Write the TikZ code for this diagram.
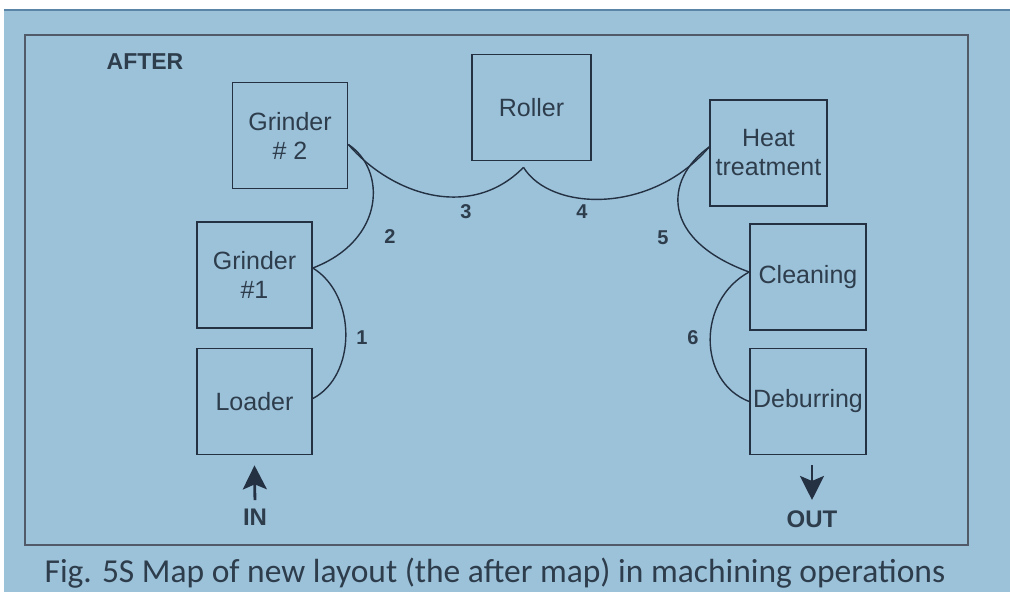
\documentclass[tikz,border=0pt]{standalone}
\usepackage{fontspec}
\setmainfont{Liberation Sans}
\newfontfamily\captionfont{Carlito}
\usetikzlibrary{arrows.meta,positioning}
\definecolor{Sheet}{HTML}{9CC2DA}
\definecolor{Edge}{HTML}{5A85A6}
\definecolor{Ink}{HTML}{243142}
\definecolor{Pencil}{HTML}{2E3D4C}
\tikzset{
  station/.style={
    draw=Ink, line width=1.7pt, minimum width=115pt, minimum height=106pt,
    inner sep=0pt, align=center, text=Pencil, font=\fontsize{25}{29}\selectfont
  },
  route/.style={draw=Ink, line width=1.4pt},
  stepno/.style={text=Pencil, font=\fontsize{20}{22}\selectfont\bfseries},
  portlabel/.style={text=Pencil, font=\fontsize{24}{26}\selectfont\bfseries},
  portflow/.style={-{Stealth[length=24pt,width=24pt,inset=5pt]}, draw=Ink, line width=2.8pt}
}

\begin{document}
\begin{tikzpicture}[x=1pt,y=-1pt]
        \useasboundingbox (0,0) rectangle (1010,592);
        \fill[white] (0,0) rectangle (1010,592);
        \fill[Sheet] (4,10) rectangle (1010,592);
        \draw[Edge,line width=2pt] (4,10) -- (1010,10);
        \draw[Ink!80,line width=1.3pt] (25,35) rectangle (968,545);
        \node[portlabel,font=\fontsize{23}{25}\selectfont\bfseries] (after) at (145,62) {AFTER};
        % stations
        \node[station] (grindtwo) at (290,135.5) {Grinder\\\# 2};
        \node[station,minimum width=119pt] (roller) at (531.5,107.5) {Roller};
        \node[station,minimum width=117pt] (heat) at (768.5,153) {Heat\\treatment};
        \node[station] (grindone) at (254.5,275) {Grinder\\\#1};
        \node[station] (loader) at (254.5,401.5) {Loader};
        \node[station,minimum width=116pt] (clean) at (808,277) {Cleaning};
        \node[station,minimum width=116pt] (deburr) at (808,401.5) {Deburring};
        \coordinate (cusp) at ([xshift=-8pt,yshift=-6pt]roller.south);
        % routes
        \draw[route] ([yshift=7pt]grindone.east) .. controls +(44,27) and +(44,-23) .. ([yshift=3pt]loader.east);
        \draw[route] ([yshift=-9pt]grindtwo.east) .. controls +(38,25) and +(73,-28) .. ([yshift=7pt]grindone.east);
        \draw[route] ([yshift=-9pt]grindtwo.east) .. controls +(43,50) and +(-53,54) .. (cusp);
        \draw[route] (cusp) .. controls +(27,44) and +(-58,68) .. ([yshift=6pt]heat.west);
        \draw[route] ([yshift=6pt]heat.west) .. controls +(-46,33) and +(-88,-32) .. ([yshift=5pt]clean.west);
        \draw[route] ([yshift=5pt]clean.west) .. controls +(-52,28) and +(-52,-20) .. (deburr.west);
        \node[stepno] (s1) at (362,338) {1};
        \node[stepno] (s2) at (390,237) {2};
        \node[stepno] (s3) at (466,212) {3};
        \node[stepno] (s4) at (582,212) {4};
        \node[stepno] (s5) at (663,238) {5};
        \node[stepno] (s6) at (693,338) {6};
        % in and out
        \node[portlabel] (inlbl) at (255,517) {IN};
        \node[portlabel] (outlbl) at (812,519) {OUT};
        \draw[portflow,shorten <=5pt] (inlbl.north) -- ([yshift=-10pt]loader.south);
        \draw[portflow,shorten >=7pt] ([xshift=4pt,yshift=-10pt]deburr.south) -- (outlbl.north);
        \node[text=Pencil,font=\captionfont\fontsize{33.5}{36}\selectfont,anchor=base] (caption) at (495,582)
          {Fig. 5S Map of new layout (the after map) in machining operations};
      \end{tikzpicture}
\end{document}
